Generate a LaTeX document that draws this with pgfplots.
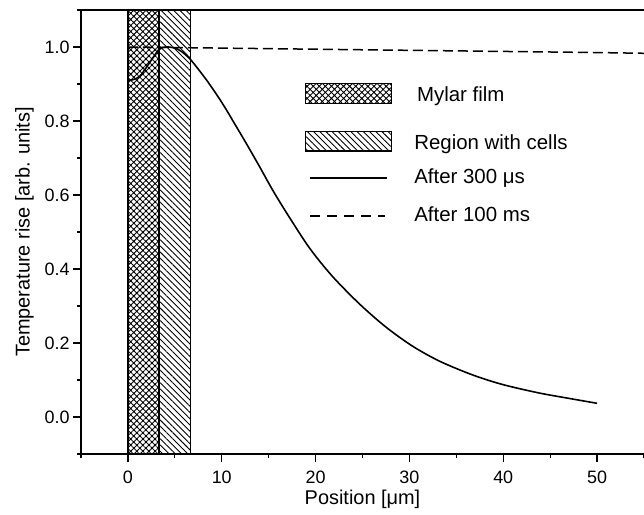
\documentclass[border=0pt]{standalone}
\usepackage{fontspec}
\setmainfont{Liberation Sans}
\usepackage{pgfplots}
\pgfplotsset{compat=1.18}
\usetikzlibrary{patterns.meta}

\begin{document}
\begin{tikzpicture}
\begin{axis}[
  scale only axis, width=563bp, height=444bp,
  xmin=-5, xmax=55, ymin=-0.1, ymax=1.1,
  axis x line=box, axis y line=left,
  axis line style={line width=1.6bp, -},
  xtick={0,10,...,50}, minor xtick={-5,5,...,55},
  ytick={0,0.2,0.4,0.6,0.8,1.0}, minor ytick={-0.1,0.1,0.3,0.5,0.7,0.9,1.1},
  xtick pos=left, ytick pos=left,
  tick align=outside, major tick length=8bp, minor tick length=4bp,
  tick style={line width=1.2bp, black},
  /pgf/number format/assume math mode=true,
  ticklabel style={font=\fontsize{18}{21}\selectfont},
  yticklabel style={/pgf/number format/.cd, fixed, fixed zerofill, precision=1},
  xticklabel style={yshift=-5bp, /pgf/number format/.cd, fixed, precision=0},
  label style={font=\fontsize{20}{24}\selectfont},
  ylabel style={yshift=4bp},
  xlabel={Position [μm]}, ylabel={Temperature rise [arb. units]},
]
% hatched regions
\addplot[draw=black, line width=1.3bp, fill=white, postaction={pattern={Hatch[angle=45,distance=4.3bp,line width=0.9bp]}}]
  coordinates {(0,-0.1) (0,1.1) (3.3,1.1) (3.3,-0.1)} -- cycle;
\addplot[draw=black, line width=1.3bp, fill=white, postaction={pattern={Lines[angle=-45,distance=4.4bp,line width=0.9bp]}}]
  coordinates {(3.3,-0.1) (3.3,1.1) (6.65,1.1) (6.65,-0.1)} -- cycle;
% after 100 ms
\addplot[black, line width=1.5bp, dash pattern=on 10bp off 5bp] coordinates {
  (0,1.0) (10,0.997) (20,0.994) (30,0.991) (40,0.988) (50,0.985) (55,0.983)};
% after 300 us
\addplot[black, line width=1.6bp, smooth] coordinates {
  (0,0.91) (0.6,0.912) (1.3,0.922) (2.3,0.957) (3.3,0.993) (4.1,1.0) (5.0,0.997)
  (5.7,0.988) (6.6,0.968) (7.5,0.94) (8.4,0.91) (9.6,0.866) (10.5,0.83) (11.2,0.80)
  (12.6,0.74) (14.0,0.678) (15.5,0.61) (17.2,0.54) (19.4,0.455) (21.8,0.38)
  (24.7,0.305) (27.5,0.243) (30.3,0.192) (33.2,0.151) (36.7,0.114) (39.9,0.088)
  (43.8,0.065) (47.3,0.049) (50,0.037)};
% legend samples
\addplot[draw=black, line width=1.3bp, fill=white, postaction={pattern={Hatch[angle=45,distance=4.3bp,line width=0.9bp]}}]
  coordinates {(18.9,0.848) (18.9,0.902) (28.1,0.902) (28.1,0.848)} -- cycle;
\addplot[draw=black, line width=1.3bp, fill=white, postaction={pattern={Lines[angle=-45,distance=4.4bp,line width=0.9bp]}}]
  coordinates {(18.9,0.719) (18.9,0.771) (28.1,0.771) (28.1,0.719)} -- cycle;
\addplot[black, line width=1.8bp] coordinates {(19.4,0.647) (27.6,0.647)};
\addplot[black, line width=1.5bp, dash pattern=on 10bp off 7bp] coordinates {(19.4,0.543) (27.4,0.543)};
\node[anchor=base west, font=\fontsize{20.5}{24}\selectfont, inner sep=0pt] at (axis cs:30.8,0.854) {Mylar film};
\node[anchor=base west, font=\fontsize{20.5}{24}\selectfont, inner sep=0pt] at (axis cs:30.5,0.724) {Region with cells};
\node[anchor=base west, font=\fontsize{20.5}{24}\selectfont, inner sep=0pt] at (axis cs:30.5,0.630) {After 300 μs};
\node[anchor=base west, font=\fontsize{20.5}{24}\selectfont, inner sep=0pt] at (axis cs:30.5,0.528) {After 100 ms};
\end{axis}
\pgfresetboundingbox
\useasboundingbox (-81bp,-61bp) rectangle (563bp,454bp);
\end{tikzpicture}
\end{document}
